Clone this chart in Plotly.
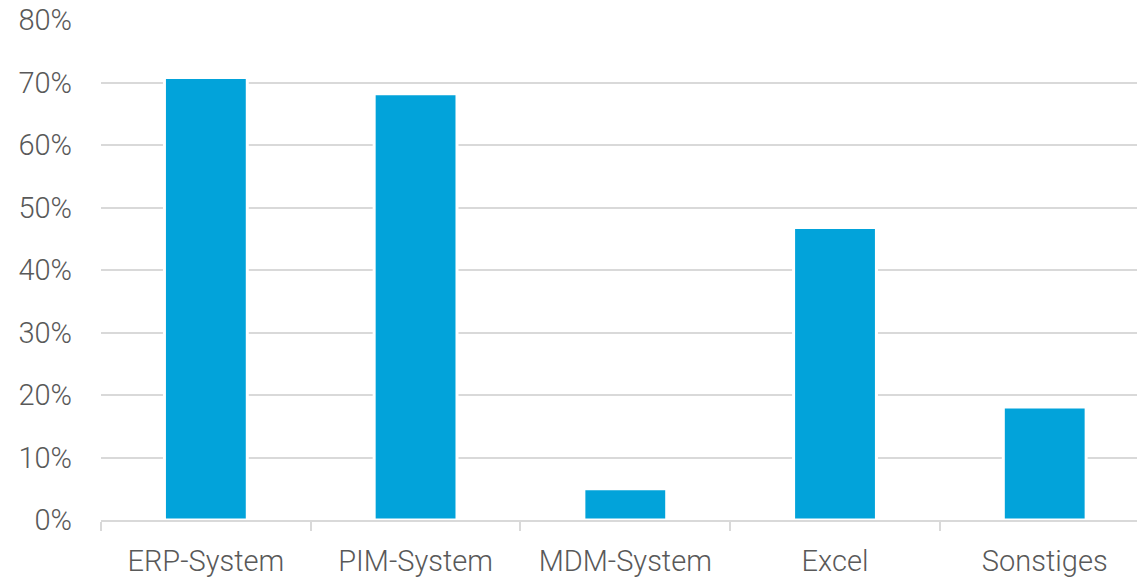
import plotly.graph_objects as go

# Survey results: systems used for product data (share of respondents, %)
categories = ["ERP-System", "PIM-System", "MDM-System", "Excel", "Sonstiges"]
shares = [70.8, 68.2, 5.0, 46.8, 18.1]
tick_values = [0, 10, 20, 30, 40, 50, 60, 70, 80]
tick_labels = ["0%", "10%", "20%", "30%", "40%", "50%", "60%", "70%", "80%"]

BAR_BLUE = "#02A3DA"
GRID_GREY = "#D9D9D9"
TEXT_GREY = "#595959"
FONT = "Roboto"
LABEL_FONT = dict(family=FONT, color=TEXT_GREY, size=29, weight=300)

fig = go.Figure(
    go.Bar(
        x=categories,
        y=shares,
        width=0.395,
        marker=dict(color=BAR_BLUE, line=dict(color="white", width=3)),
        hoverinfo="x+y",
    )
)

fig.update_layout(
    width=1137,
    height=580,
    margin=dict(l=101, r=0, t=20, b=60),
    paper_bgcolor="white",
    plot_bgcolor="white",
    showlegend=False,
    font=LABEL_FONT,
)

fig.update_xaxes(
    type="category",
    range=[-0.5, 4.44],
    showline=True,
    linecolor=GRID_GREY,
    linewidth=2,
    ticks="outside",
    tickson="boundaries",
    ticklen=9,
    tickwidth=2,
    tickcolor=GRID_GREY,
    ticklabelstandoff=14,
    showgrid=False,
    tickfont=LABEL_FONT,
)

fig.update_yaxes(
    range=[0, 80],
    tickvals=tick_values,
    ticktext=tick_labels,
    showgrid=True,
    gridcolor=GRID_GREY,
    gridwidth=2,
    zeroline=False,
    showline=False,
    ticks="",
    ticklabelstandoff=28,
    tickfont=LABEL_FONT,
)

fig.write_html("out.html")
